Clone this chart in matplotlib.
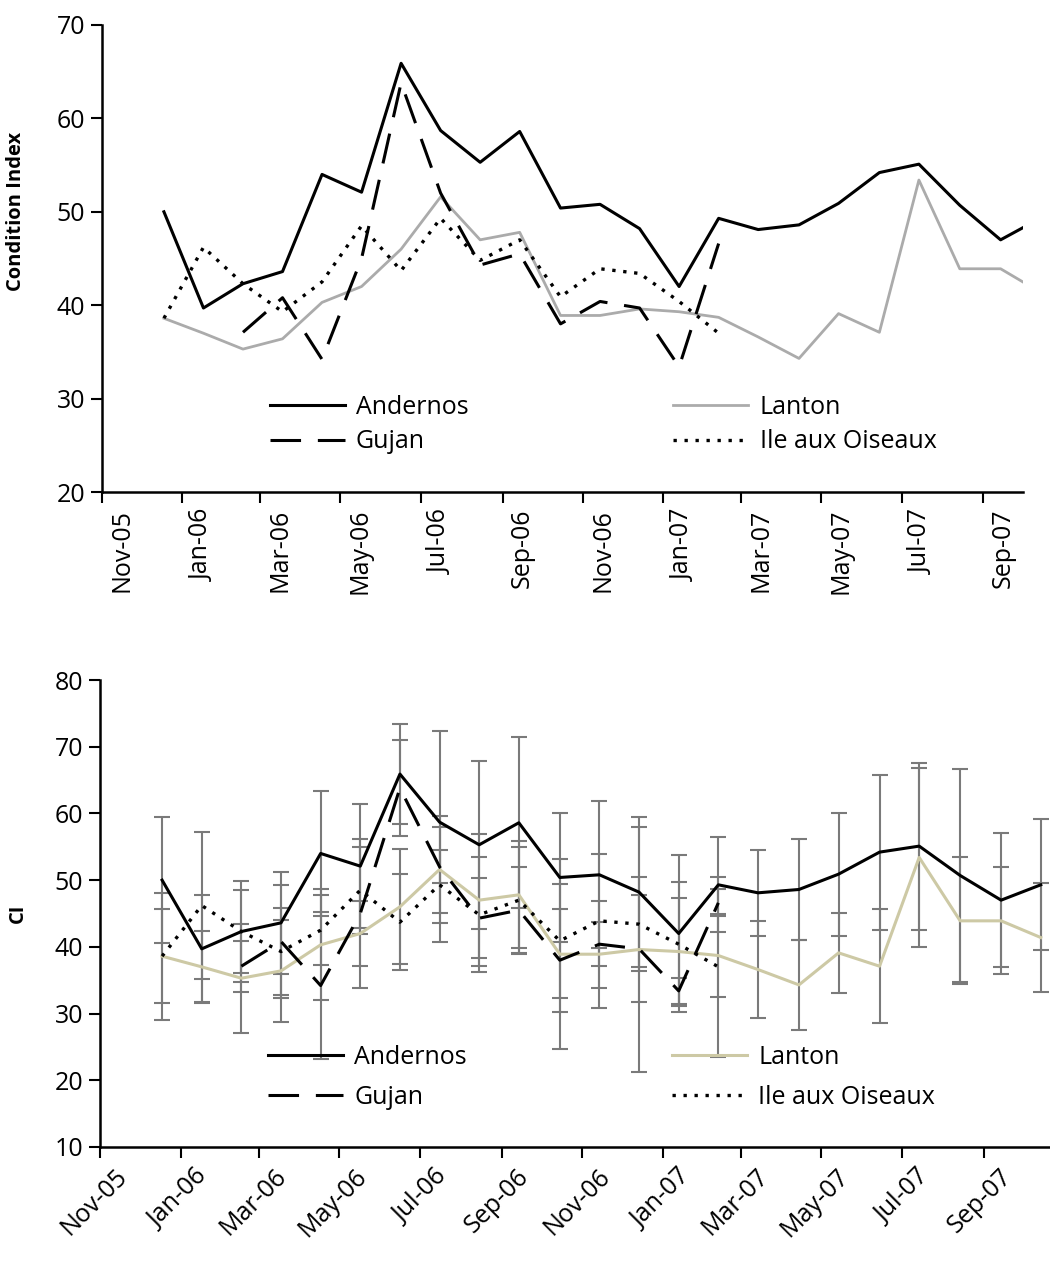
import numpy as np
import pandas as pd
import matplotlib
matplotlib.use('Agg')
import matplotlib.pyplot as plt
import matplotlib.transforms as mtransforms

plt.rcParams['font.family'] = ['Open Sans', 'DejaVu Sans']

# sampling dates (about one per month)
dates = pd.to_datetime([
    '2005-12-18', '2006-01-17', '2006-02-16', '2006-03-18', '2006-04-17',
    '2006-05-17', '2006-06-16', '2006-07-16', '2006-08-15', '2006-09-14',
    '2006-10-15', '2006-11-14', '2006-12-14', '2007-01-13', '2007-02-12',
    '2007-03-14', '2007-04-14', '2007-05-14', '2007-06-14', '2007-07-14',
    '2007-08-14', '2007-09-14', '2007-10-14'])

nan = np.nan
andernos = [50.0, 39.7, 42.3, 43.6, 54.0, 52.1, 65.9, 58.7, 55.3, 58.6, 50.4, 50.8,
            48.2, 42.0, 49.3, 48.1, 48.6, 50.9, 54.2, 55.1, 50.7, 47.0, 49.3]
lanton = [38.6, 37.0, 35.3, 36.4, 40.3, 42.0, 46.0, 51.6, 47.0, 47.8, 38.9, 38.9,
          39.6, 39.3, 38.7, 36.6, 34.3, 39.1, 37.1, 53.4, 43.9, 43.9, 41.4]
gujan = [nan, nan, 37.1, 40.8, 34.2, 45.0, 63.8, 52.0, 44.3, 45.5, 38.0, 40.4,
         39.7, 33.4, 46.6, nan, nan, nan, nan, nan, nan, nan, nan]
ile = [38.6, 46.2, 42.3, 39.3, 42.5, 48.5, 43.7, 49.3, 44.8, 47.0, 40.9, 43.9,
       43.4, 40.4, 37.0, nan, nan, nan, nan, nan, nan, nan, nan]

# standard deviations (bottom panel)
andernos_sd = [9.4, 8.0, 7.6, 7.6, 9.4, 9.3, 7.5, 13.7, 12.6, 12.8, 9.7, 11.0,
               11.2, 11.7, 7.1, 6.4, 7.5, 9.2, 11.6, 12.5, 15.9, 10.0, 9.8]
lanton_sd = [9.5, 5.4, 8.2, 7.6, 8.3, 4.9, 8.6, 8.0, 9.9, 8.0, 14.2, 8.0,
             18.4, 8.0, 6.2, 7.3, 6.8, 6.0, 8.5, 13.4, 9.5, 8.0, 8.2]
gujan_sd = [nan, nan, 3.8, 8.5, 11.0, 11.2, 7.2, 2.5, 6.0, 6.4, 7.7, 3.3,
            8.0, 2.0, 2.0, nan, nan, nan, nan, nan, nan, nan, nan]
ile_sd = [7.0, 11.0, 6.2, 6.5, 5.2, 6.5, 7.2, 8.6, 8.6, 8.0, 8.5, 10.0,
          7.0, 9.3, 13.5, nan, nan, nan, nan, nan, nan, nan, nan]

tick_dates = pd.to_datetime(['2005-11-01', '2006-01-01', '2006-03-01', '2006-05-01',
                             '2006-07-01', '2006-09-01', '2006-11-01', '2007-01-01',
                             '2007-03-01', '2007-05-01', '2007-07-01', '2007-09-01'])
tick_labels = ['Nov-05', 'Jan-06', 'Mar-06', 'May-06', 'Jul-06', 'Sep-06',
               'Nov-06', 'Jan-07', 'Mar-07', 'May-07', 'Jul-07', 'Sep-07']

dash = (0, (10, 5.5))
dots = (0, (1, 2.3))

fig = plt.figure(figsize=(10.5, 12.63), dpi=100)
ax1 = fig.add_axes([102/1050, 1-492/1263, 921/1050, 467/1263])
ax2 = fig.add_axes([100/1050, 1-1147/1263, 950/1050, 467/1263])


def style_axes(ax):
    for s in ['top', 'right']:
        ax.spines[s].set_visible(False)
    for s in ['left', 'bottom']:
        ax.spines[s].set_linewidth(1.8)
    ax.tick_params(direction='out', length=8, width=1.5, labelsize=18, pad=4)
    ax.set_xticks(tick_dates)
    ax.set_xticklabels(tick_labels)


# --- top panel ---
l_lan, = ax1.plot(dates, lanton, color='#ababab', lw=2.0, label='Lanton')
l_ile, = ax1.plot(dates, ile, color='black', lw=2.4, ls=dots, label='Ile aux Oiseaux')
l_guj, = ax1.plot(dates, gujan, color='black', lw=2.2, ls=dash, label='Gujan')
l_and, = ax1.plot(dates, andernos, color='black', lw=2.2, label='Andernos')
style_axes(ax1)
ax1.set_xlim(pd.Timestamp('2005-11-01'), pd.Timestamp('2007-10-01'))
ax1.set_ylim(20, 70)
ax1.set_yticks(range(20, 71, 10))
ax1.set_ylabel('Condition Index', fontsize=14.5, fontweight='bold')
ax1.yaxis.set_label_coords(-0.083, 0.6)
off = mtransforms.ScaledTranslation(0.2, 0, fig.dpi_scale_trans)
for lab in ax1.get_xticklabels():
    lab.set_rotation(90)
    lab.set_transform(lab.get_transform() + off)
ax1.legend([l_and, l_guj, l_lan, l_ile], ['Andernos', 'Gujan', 'Lanton', 'Ile aux Oiseaux'],
           ncol=2, frameon=False, fontsize=18, loc='upper left',
           bbox_to_anchor=(0.182, 0.208), borderpad=0, borderaxespad=0,
           handlelength=3.0, handletextpad=0.45, columnspacing=8.2, labelspacing=0.38)

# --- bottom panel ---
eb_kw = dict(fmt='none', ecolor='#7a7a7a', elinewidth=1.5, capsize=6, capthick=1.5, zorder=1)
ax2.errorbar(dates, andernos, yerr=andernos_sd, **eb_kw)
ax2.errorbar(dates, lanton, yerr=lanton_sd, **eb_kw)
ax2.errorbar(dates, gujan, yerr=gujan_sd, **eb_kw)
ax2.errorbar(dates, ile, yerr=ile_sd, **eb_kw)
b_lan, = ax2.plot(dates, lanton, color='#cdc9a5', lw=2.2, zorder=2)
b_ile, = ax2.plot(dates, ile, color='black', lw=2.4, ls=dots, zorder=3)
b_guj, = ax2.plot(dates, gujan, color='black', lw=2.2, ls=dash, zorder=3)
b_and, = ax2.plot(dates, andernos, color='black', lw=2.2, zorder=4)
style_axes(ax2)
ax2.set_xlim(pd.Timestamp('2005-11-01'), pd.Timestamp('2007-10-21'))
ax2.set_ylim(10, 80)
ax2.set_yticks(range(10, 81, 10))
ax2.set_ylabel('CI', fontsize=14.5, fontweight='bold')
ax2.yaxis.set_label_coords(-0.076, 0.5)
off2 = mtransforms.ScaledTranslation(0.15, 0, fig.dpi_scale_trans)
for lab in ax2.get_xticklabels():
    lab.set_rotation(45)
    lab.set_ha('right')
    lab.set_va('top')
    lab.set_rotation_mode('anchor')
    lab.set_transform(lab.get_transform() + off2)
ax2.legend([b_and, b_guj, b_lan, b_ile], ['Andernos', 'Gujan', 'Lanton', 'Ile aux Oiseaux'],
           ncol=2, frameon=False, fontsize=18, loc='upper left',
           bbox_to_anchor=(0.177, 0.218), borderpad=0, borderaxespad=0,
           handlelength=3.0, handletextpad=0.45, columnspacing=8.2, labelspacing=0.58)

fig.savefig('out.png', dpi=100)
